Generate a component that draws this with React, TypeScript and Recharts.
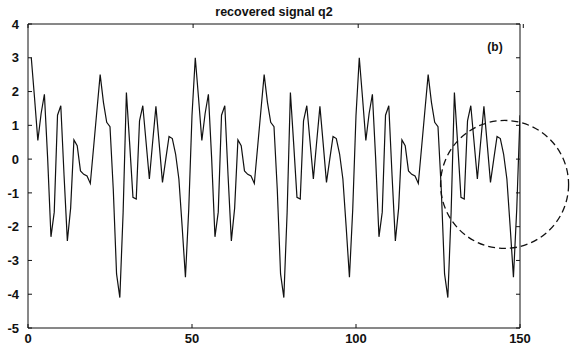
import React from "react";
import {
  LineChart,
  Line,
  XAxis,
  YAxis,
  ReferenceDot,
  Customized,
} from "recharts";

// Sample index (1..150) and recovered signal q2
const sampleIndex: number[] = Array.from({ length: 150 }, (_, i) => i + 1);

const signalQ2: number[] = [
  // 1 - 50
  3.0, 1.8, 0.55, 1.35, 1.92, 0.0, -2.3, -1.57, 1.3, 1.58,
  -0.5, -2.42, -1.45, 0.57, 0.4, -0.35, -0.45, -0.5, -0.72, 0.35,
  1.43, 2.5, 1.68, 1.09, 0.96, -0.9, -3.4, -4.1, -1.58, 1.97,
  0.45, -1.13, -1.18, 1.13, 1.58, 0.5, -0.59, 0.5, 1.56, 0.45,
  -0.69, 0.0, 0.67, 0.61, 0.15, -0.59, -2.0, -3.5, -1.5, 1.3,
  // 51 - 100
  3.0, 1.8, 0.55, 1.35, 1.92, 0.0, -2.3, -1.57, 1.3, 1.58,
  -0.5, -2.42, -1.45, 0.57, 0.4, -0.35, -0.45, -0.5, -0.72, 0.35,
  1.43, 2.5, 1.68, 1.09, 0.96, -0.9, -3.4, -4.1, -1.58, 1.97,
  0.45, -1.13, -1.18, 1.13, 1.58, 0.5, -0.59, 0.5, 1.56, 0.45,
  -0.69, 0.0, 0.67, 0.61, 0.15, -0.59, -2.0, -3.5, -1.5, 1.3,
  // 101 - 150
  3.0, 1.8, 0.55, 1.35, 1.92, 0.0, -2.3, -1.57, 1.3, 1.58,
  -0.5, -2.42, -1.45, 0.57, 0.4, -0.35, -0.45, -0.5, -0.72, 0.35,
  1.43, 2.5, 1.68, 1.09, 0.96, -0.9, -3.4, -4.1, -1.58, 1.97,
  0.45, -1.13, -1.18, 1.13, 1.58, 0.5, -0.59, 0.5, 1.56, 0.45,
  -0.69, 0.0, 0.67, 0.61, 0.15, -0.59, -2.0, -3.5, -1.5, 1.3,
];

const xTicks: number[] = [0, 50, 100, 150];
const yTicks: number[] = [-5, -4, -3, -2, -1, 0, 1, 2, 3, 4];

const titleText = "recovered signal q2";
const panelLabel = "(b)";

// Highlighted region (dashed circle), in data units
const circleCenter = { x: 145.3, y: -0.75 };

const data = sampleIndex.map((n, i) => ({ n, q2: signalQ2[i] }));

const FONT = "'Liberation Sans', Arial, Helvetica, sans-serif";
const INK = "#111";

const tickStyle = {
  fontFamily: FONT,
  fontSize: 13,
  fontWeight: 700,
  fill: INK,
};

// Tick renderer for the mirrored (top/right) axes: tick marks only, no labels
const NoLabel = () => <g />;

export default function App() {
  return (
    <div style={{ position: "absolute", left: 0, top: 0, background: "#fff" }}>
      <LineChart
        width={577}
        height={350}
        data={data}
        margin={{ top: 23, right: 56, bottom: 0, left: 0 }}
      >
        <XAxis
          xAxisId="b"
          dataKey="n"
          type="number"
          domain={[0, 150]}
          ticks={xTicks}
          allowDataOverflow
          height={22}
          stroke={INK}
          tickSize={-4}
          tickMargin={10}
          tick={tickStyle}
        />
        <XAxis
          xAxisId="t"
          orientation="top"
          type="number"
          domain={[0, 150]}
          ticks={xTicks}
          allowDataOverflow
          height={1}
          stroke={INK}
          tickSize={-4}
          tick={NoLabel}
        />
        <YAxis
          yAxisId="l"
          type="number"
          domain={[-5, 4]}
          ticks={yTicks}
          allowDataOverflow
          width={28}
          stroke={INK}
          tickSize={-4}
          tickMargin={13}
          tick={tickStyle}
        />
        <YAxis
          yAxisId="r"
          orientation="right"
          type="number"
          domain={[-5, 4]}
          ticks={yTicks}
          allowDataOverflow
          width={1}
          stroke={INK}
          tickSize={-4}
          tick={NoLabel}
        />
        <Line
          xAxisId="b"
          yAxisId="l"
          type="linear"
          dataKey="q2"
          stroke={INK}
          strokeWidth={1.2}
          dot={false}
          isAnimationActive={false}
        />
        <ReferenceDot
          xAxisId="b"
          yAxisId="l"
          x={circleCenter.x}
          y={circleCenter.y}
          r={64}
          fill="none"
          stroke={INK}
          strokeWidth={1.3}
          strokeDasharray="7 4"
          ifOverflow="visible"
        />
        <Customized
          component={() => (
            <g>
              <text
                x={274}
                y={16}
                textAnchor="middle"
                fontFamily={FONT}
                fontSize={12.5}
                fontWeight={700}
                fill={INK}
              >
                {titleText}
              </text>
              <text
                x={495}
                y={51}
                textAnchor="middle"
                fontFamily={FONT}
                fontSize={12}
                fontWeight={700}
                fill={INK}
              >
                {panelLabel}
              </text>
            </g>
          )}
        />
      </LineChart>
    </div>
  );
}
